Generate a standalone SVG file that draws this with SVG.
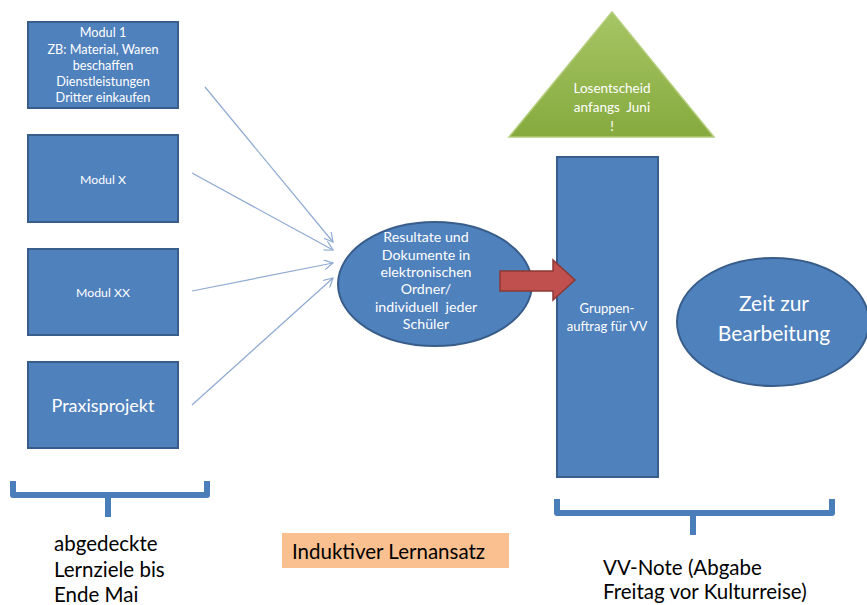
<svg xmlns="http://www.w3.org/2000/svg" width="867" height="605" viewBox="0 0 867 605">
<defs>
<style>
.box{fill:#4f81bd;stroke:#385d8a;stroke-width:2}
.wt{fill:#ffffff;font-family:Lato,"Open Sans","Liberation Sans",sans-serif;text-anchor:middle}
.bt{fill:#000000;font-family:Lato,"Open Sans","Liberation Sans",sans-serif}
.conn{stroke:#8eaad2;stroke-width:1.2;fill:none;marker-end:url(#open)}
.brace{fill:none;stroke:#4a7ebb;stroke-width:6;stroke-linejoin:round;stroke-linecap:butt}
</style>
<marker id="open" viewBox="0 0 10 10" refX="9" refY="5" markerWidth="10" markerHeight="10" orient="auto" markerUnits="userSpaceOnUse">
<path d="M0,0 L9,5 L0,10" fill="none" stroke="#8eaad2" stroke-width="1.2"/>
</marker>
<linearGradient id="green" x1="0" y1="0" x2="0" y2="1">
<stop offset="0" stop-color="#a6c565"/>
<stop offset="1" stop-color="#86aa3e"/>
</linearGradient>
</defs>
<rect width="867" height="605" fill="#ffffff"/>

<g id="connectors">
<line class="conn" x1="205" y1="87" x2="333" y2="242"/>
<line class="conn" x1="192" y1="173" x2="333" y2="250"/>
<line class="conn" x1="192" y1="291" x2="333" y2="263"/>
<line class="conn" x1="192" y1="405" x2="333" y2="278"/>
</g>

<g id="modul1">
<rect class="box" x="28" y="22" width="150" height="86"/>
<text class="wt" font-size="12.7" x="103" y="37">Modul 1</text>
<text class="wt" font-size="12.7" x="103" y="54">ZB: Material, Waren</text>
<text class="wt" font-size="12.7" x="103" y="70">beschaffen</text>
<text class="wt" font-size="12.7" x="103" y="86">Dienstleistungen</text>
<text class="wt" font-size="12.7" x="103" y="102">Dritter einkaufen</text>
</g>

<g id="modulX">
<rect class="box" x="28" y="135" width="150" height="87"/>
<text class="wt" font-size="12.3" x="103" y="184">Modul X</text>
</g>

<g id="modulXX">
<rect class="box" x="28" y="249" width="150" height="86"/>
<text class="wt" font-size="12.3" x="103" y="297">Modul XX</text>
</g>

<g id="praxisprojekt">
<rect class="box" x="28" y="362" width="150" height="86"/>
<text class="wt" font-size="18" x="103" y="412">Praxisprojekt</text>
</g>

<g id="brace-left">
<path class="brace" d="M13,481 V495 H207 V481 M108,495 V517"/>
</g>
<g id="label-left">
<text class="bt" font-size="20.5" x="54" y="551">abgedeckte</text>
<text class="bt" font-size="20.5" x="54" y="577">Lernziele bis</text>
<text class="bt" font-size="20.5" x="54" y="602">Ende Mai</text>
</g>

<g id="resultate">
<ellipse class="box" cx="435" cy="284" rx="97" ry="62"/>
<text class="wt" font-size="14.2" x="426" y="242">Resultate und</text>
<text class="wt" font-size="14.2" x="426" y="260">Dokumente in</text>
<text class="wt" font-size="14.2" x="426" y="277">elektronischen</text>
<text class="wt" font-size="14.2" x="426" y="294">Ordner/</text>
<text class="wt" font-size="14.2" x="426" y="312" xml:space="preserve">individuell  jeder</text>
<text class="wt" font-size="14.2" x="426" y="329">Schüler</text>
</g>

<g id="gruppenauftrag">
<rect class="box" x="557" y="157" width="101" height="320"/>
<text class="wt" font-size="13" x="607" y="313">Gruppen-</text>
<text class="wt" font-size="13" x="607" y="331">auftrag für VV</text>
</g>

<g id="red-arrow">
<path d="M500,271 H553 V260 L575,280 L553,300 V291 H500 Z" fill="#c0504d" stroke="#8c3836" stroke-width="1.5" stroke-linejoin="miter"/>
</g>

<g id="losentscheid">
<polygon points="612,12 714,137 509,137" fill="url(#green)" stroke="#b3cd7a" stroke-width="1.5"/>
<text class="wt" font-size="13.5" x="612" y="93">Losentscheid</text>
<text class="wt" font-size="13.5" x="612" y="112" xml:space="preserve">anfangs  Juni</text>
<text class="wt" font-size="13.5" x="612" y="131">!</text>
</g>

<g id="zeit">
<ellipse class="box" cx="773" cy="322" rx="96" ry="64"/>
<text class="wt" font-size="21" x="774" y="311">Zeit zur</text>
<text class="wt" font-size="21" x="774" y="341">Bearbeitung</text>
</g>

<g id="induktiv">
<rect x="282" y="533" width="227" height="35" fill="#fac090"/>
<text class="bt" font-size="20.5" x="292" y="559">Induktiver Lernansatz</text>
</g>

<g id="brace-right">
<path class="brace" d="M557,499 V513 H832 V499 M693,513 V535"/>
</g>
<g id="label-right">
<text class="bt" font-size="20.5" x="603" y="575">VV-Note (Abgabe</text>
<text class="bt" font-size="20.5" x="603" y="599">Freitag vor Kulturreise)</text>
</g>
</svg>
